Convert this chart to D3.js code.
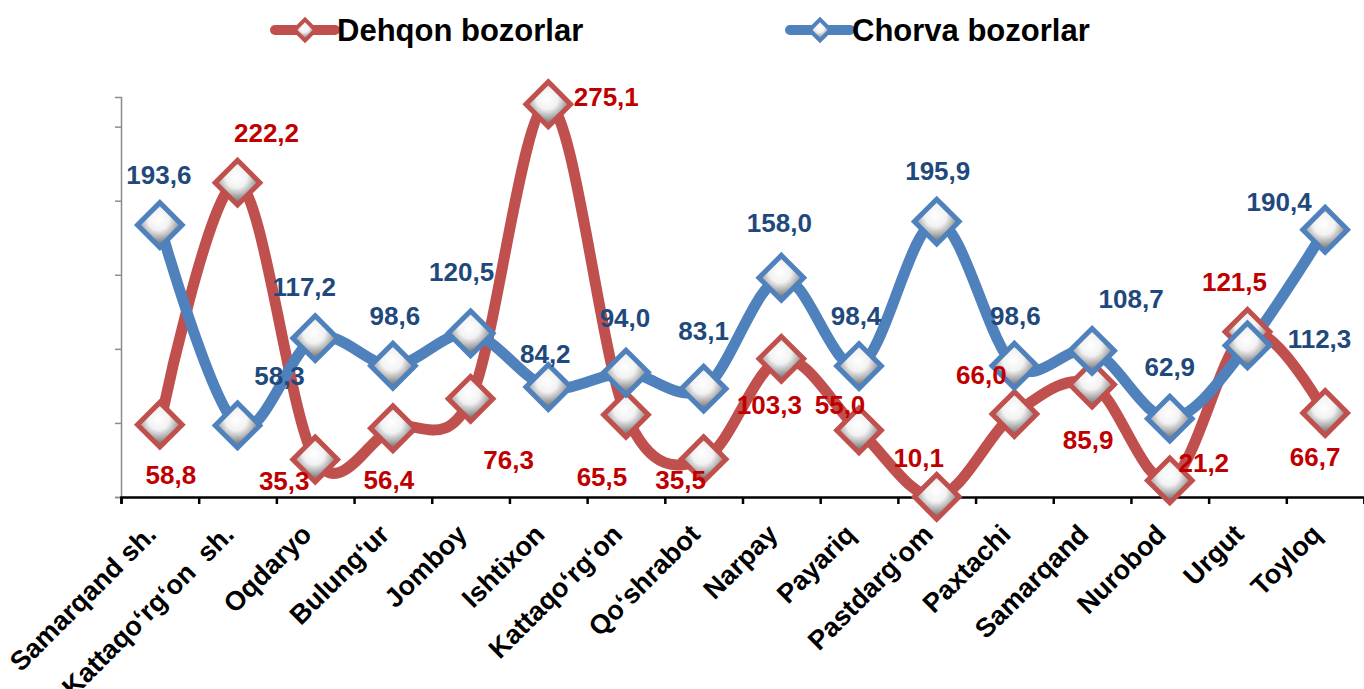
<!DOCTYPE html>
<html>
<head>
<meta charset="utf-8">
<script src="https://cdn.jsdelivr.net/npm/d3@7"></script>
<style>
  body { margin: 0; background: #fff; }
  svg { display: block; font-family: "Liberation Sans", Arial, sans-serif; font-weight: bold; }
</style>
</head>
<body>
<div class="container"></div>
<script>
const districts = ['Samarqand sh.', 'Kattaqo\u2018rg\u2018on  sh.', 'Oqdaryo', 'Bulung\u2018ur', 'Jomboy',
  'Ishtixon', 'Kattaqo\u2018rg\u2018on', 'Qo\u2018shrabot', 'Narpay', 'Payariq', 'Pastdarg\u2018om',
  'Paxtachi', 'Samarqand', 'Nurobod', 'Urgut', 'Toyloq']
const dehqon = [58.8, 222.2, 35.3, 56.4, 76.3, 275.1, 65.5, 35.5, 103.3, 55.0, 10.1, 66.0, 85.9, 21.2, 121.5, 66.7]
const chorva = [193.6, 58.3, 117.2, 98.6, 120.5, 84.2, 94.0, 83.1, 158.0, 98.4, 195.9, 98.6, 108.7, 62.9, 112.3, 190.4]
const yTicks = [10, 60, 110, 160, 210, 260]

// label offsets from each marker (px), placed by hand like in the original
const dehqonLabelPos = [[11, 50], [29, -50], [-31, 21], [-4, 52], [38, 61], [58, -7], [-24, 62], [-23, 21],
  [-12, 46], [-19, -25], [-18, -39], [-33, -39], [-4, 55], [34, -18], [-13, -50], [-10, 44]]
const chorvaLabelPos = [[-1, -50], [42, -50], [-11, -51], [2, -50], [-9, -61], [-3, -33], [-1, -55], [0, -58],
  [-2, -55], [-3, -50], [1, -51], [1, -50], [39, -52], [0, -52], [72, -7], [-46, -28]]

const w = 1364
const h = 689
const plotLeft = 121
const plotRight = 1364
const plotTop = 97
const plotBottom = 497

const svg = d3.select('.container')
  .append('svg')
  .attr('width', w)
  .attr('height', h)

const grad = svg.append('defs').append('radialGradient')
  .attr('id', 'mk')
  .attr('cx', '35%').attr('cy', '40%').attr('r', '75%')
grad.append('stop').attr('offset', '0%').attr('stop-color', '#ffffff')
grad.append('stop').attr('offset', '45%').attr('stop-color', '#f2f2f2')
grad.append('stop').attr('offset', '100%').attr('stop-color', '#7f7f7f')

const x = d3.scaleBand().domain(districts).range([plotLeft, plotRight])
const xEdge = d3.scaleLinear().domain([0, districts.length]).range([plotLeft, plotRight])
const y = d3.scaleLinear().domain([10, 280]).range([plotBottom, plotTop])

// axes
const yAxis = d3.axisLeft(y).tickValues(yTicks).tickSize(6).tickFormat('')
const gy = svg.append('g').attr('transform', `translate(${plotLeft},0)`).call(yAxis)
gy.select('.domain').attr('stroke', '#8c8c8c').attr('stroke-width', 1.5)
gy.selectAll('.tick line').attr('stroke', '#8c8c8c').attr('stroke-width', 1.5)

const xAxis = d3.axisBottom(xEdge).tickValues(d3.range(districts.length + 1)).tickSize(7).tickFormat('')
const gx = svg.append('g').attr('transform', `translate(0,${plotBottom})`).call(xAxis)
gx.select('.domain').attr('stroke', '#000').attr('stroke-width', 2.5)
gx.selectAll('.tick line').attr('stroke', '#000').attr('stroke-width', 2.5)

svg.append('g').selectAll('text')
  .data(districts)
  .enter()
  .append('text')
  .attr('transform', d => `translate(${x(d) + x.bandwidth() / 2 - 2},${plotBottom + 39}) rotate(-45)`)
  .attr('text-anchor', 'end')
  .attr('font-size', 27)
  .attr('fill', '#000')
  .style('white-space', 'pre')
  .text(d => d)

const line = d3.line()
  .x((d, i) => x(districts[i]) + x.bandwidth() / 2)
  .y(d => y(d))
  .curve(d3.curveCardinal.tension(0))

const diamond = d3.symbol(d3.symbolSquare, 1000)

const series = [
  { name: 'Dehqon bozorlar', values: dehqon, color: '#C0504D', text: '#C00000', lab: dehqonLabelPos },
  { name: 'Chorva bozorlar', values: chorva, color: '#4F81BD', text: '#1F497D', lab: chorvaLabelPos }
]

series.forEach(s => {
  svg.append('path')
    .datum(s.values)
    .attr('d', line)
    .attr('fill', 'none')
    .attr('stroke', s.color)
    .attr('stroke-width', 11)
    .attr('stroke-linejoin', 'round')
})

series.forEach(s => {
  svg.append('g').selectAll('path')
    .data(s.values)
    .enter()
    .append('path')
    .attr('d', diamond)
    .attr('transform', (d, i) => `translate(${x(districts[i]) + x.bandwidth() / 2},${y(d)}) rotate(45)`)
    .attr('fill', 'url(#mk)')
    .attr('stroke', s.color)
    .attr('stroke-width', 5)
})

series.forEach(s => {
  svg.append('g').selectAll('text')
    .data(s.values)
    .enter()
    .append('text')
    .attr('x', (d, i) => x(districts[i]) + x.bandwidth() / 2 + s.lab[i][0])
    .attr('y', (d, i) => y(d) + s.lab[i][1])
    .attr('dy', '0.35em')
    .attr('text-anchor', 'middle')
    .attr('font-size', 26)
    .attr('fill', s.text)
    .text(d => d.toFixed(1).replace('.', ','))
})

// legend
const legendX = [275, 790]
series.forEach((s, i) => {
  const g = svg.append('g').attr('transform', `translate(${legendX[i]},30)`)
  g.append('line')
    .attr('x1', 0).attr('x2', 60)
    .attr('stroke', s.color).attr('stroke-width', 10).attr('stroke-linecap', 'round')
  g.append('path')
    .attr('d', d3.symbol(d3.symbolSquare, 220))
    .attr('transform', 'translate(30,0) rotate(45)')
    .attr('fill', 'url(#mk)')
    .attr('stroke', s.color)
    .attr('stroke-width', 4)
  g.append('text')
    .attr('x', 62)
    .attr('dy', '0.35em')
    .attr('font-size', 31)
    .attr('fill', '#000')
    .text(s.name)
})
</script>
</body>
</html>
